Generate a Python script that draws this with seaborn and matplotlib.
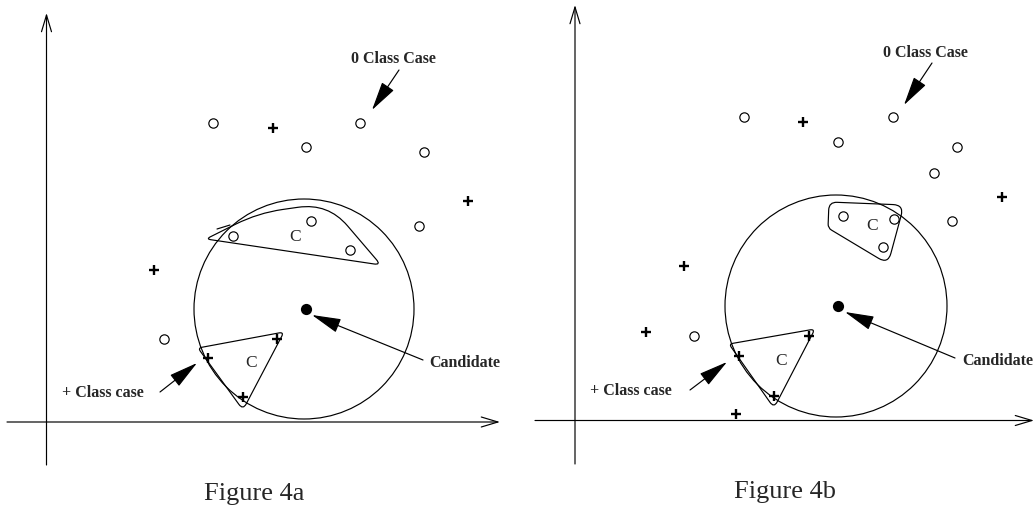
import matplotlib
matplotlib.use("Agg")
import matplotlib.pyplot as plt
import matplotlib.patches as mpatches
from matplotlib.path import Path
import seaborn as sns
import numpy as np

# Everything is placed in picture pixels (x right, y down), 1036 x 509

# Figure 4a
a_zero_x = [213, 360, 306, 424, 311, 233, 350, 419, 164]
a_zero_y = [123, 123, 147, 152, 221, 236, 250, 226, 339]
a_plus_x = [273, 468, 154, 277, 208, 243]
a_plus_y = [128, 201, 270, 339, 358, 397]
a_candidate = (306, 309)
a_radius = 110
a_upper_group = [(206, 239), (258, 213), (328, 203), (381, 265)]
a_upper_round = [5, 25, 30, 7]
a_lower_group = [(198, 348), (284, 332), (243, 410)]
a_lower_round = [4, 5, 7]
a_c_labels = [(295, 237), (251, 363)]

# Figure 4b
b_zero_x = [744, 893, 838, 957, 934, 843, 894, 883, 952, 694]
b_zero_y = [117, 117, 142, 147, 173, 216, 219, 247, 221, 336]
b_plus_x = [803, 1002, 684, 646, 809, 739, 774, 736]
b_plus_y = [122, 197, 266, 332, 336, 356, 396, 414]
b_candidate = (838, 306)
b_radius = 111
b_upper_group = [(829, 202), (904, 205), (888, 264), (828, 228)]
b_upper_round = [8, 11, 11, 4]
b_lower_group = [(729, 344), (815, 329), (774, 408)]
b_lower_round = [4, 5, 7]
b_c_labels = [(872, 226), (781, 361)]

panels = [
    dict(zx=a_zero_x, zy=a_zero_y, px=a_plus_x, py=a_plus_y, cand=a_candidate, r=a_radius,
         up=a_upper_group, upr=a_upper_round, lo=a_lower_group, lor=a_lower_round, cl=a_c_labels,
         xaxis=((7, 422), (500, 422)), yaxis=((46.5, 465), (46.5, 13)),
         zero_txt=(393, 59), zero_arrow=((399, 70), (372, 110)),
         cand_txt=(465, 363), cand_arrow=((423, 360), (312, 315)),
         plus_txt=(103, 393), plus_arrow=((160, 392), (197, 363)),
         title="Figure 4a", title_xy=(254, 494)),
    dict(zx=b_zero_x, zy=b_zero_y, px=b_plus_x, py=b_plus_y, cand=b_candidate, r=b_radius,
         up=b_upper_group, upr=b_upper_round, lo=b_lower_group, lor=b_lower_round, cl=b_c_labels,
         xaxis=((535, 420.5), (1034, 420.5)), yaxis=((575, 464), (575, 5)),
         zero_txt=(925, 53), zero_arrow=((932, 63), (904, 105)),
         cand_txt=(998, 361), cand_arrow=((955, 358), (845, 312)),
         plus_txt=(631, 391), plus_arrow=((690, 390), (727, 362)),
         title="Figure 4b", title_xy=(785, 492)),
]


def rounded_outline(corners, radii):
    pts = np.array(corners, float)
    n = len(pts)
    verts, codes = [], []
    for i in range(n):
        p, prev, nxt = pts[i], pts[i - 1], pts[(i + 1) % n]
        a = p + (prev - p) / np.linalg.norm(prev - p) * radii[i]
        b = p + (nxt - p) / np.linalg.norm(nxt - p) * radii[i]
        verts.append(a)
        codes.append(Path.MOVETO if i == 0 else Path.LINETO)
        verts += [p, b]
        codes += [Path.CURVE3, Path.CURVE3]
    verts.append(verts[0])
    codes.append(Path.LINETO)
    verts.append(verts[0])
    codes.append(Path.CLOSEPOLY)
    return Path(verts, codes)


sns.set_style("white")
plt.rcParams['font.family'] = ['Liberation Serif', 'DejaVu Serif']

fig = plt.figure(figsize=(10.36, 5.09), dpi=100)
ax = fig.add_axes([0, 0, 1, 1])
ax.set_xlim(0, 1036)
ax.set_ylim(509, 0)
ax.axis("off")

lw = 0.85
bold = dict(fontsize=11.5, fontweight="bold", ha="center", va="center")
head = dict(arrowstyle="-|>,head_length=1.3,head_width=0.32", color="black", lw=lw,
            shrinkA=0, shrinkB=0, mutation_scale=14)
axis_head = dict(arrowstyle="->,head_length=1.0,head_width=0.3", color="black", lw=lw,
                 shrinkA=0, shrinkB=0, mutation_scale=12)

for pn in panels:
    # axes with open arrow heads
    ax.annotate("", xy=pn["xaxis"][1], xytext=pn["xaxis"][0], arrowprops=axis_head)
    ax.annotate("", xy=pn["yaxis"][1], xytext=pn["yaxis"][0], arrowprops=axis_head)

    # neighbourhood circle and the two groups
    ax.add_patch(mpatches.Circle((pn["cand"][0] - 2, pn["cand"][1]), pn["r"], fill=False, lw=lw, ec="black"))
    ax.add_patch(mpatches.PathPatch(rounded_outline(pn["up"], pn["upr"]), fill=False, lw=lw, ec="black"))
    ax.add_patch(mpatches.PathPatch(rounded_outline(pn["lo"], pn["lor"]), fill=False, lw=lw, ec="black"))

    sns.scatterplot(x=pn["zx"], y=pn["zy"], marker="o", s=45, facecolor="white",
                    edgecolor="black", linewidth=0.85, ax=ax, zorder=3)
    sns.scatterplot(x=pn["px"], y=pn["py"], marker="+", s=58, color="black",
                    linewidth=1.7, ax=ax, zorder=3)
    sns.scatterplot(x=[pn["cand"][0]], y=[pn["cand"][1]], marker="o", s=65, color="black",
                    linewidth=0, ax=ax, zorder=3)

    for cx, cy in pn["cl"]:
        ax.text(cx, cy, "C", fontsize=12.5, ha="center", va="center")

    ax.text(*pn["zero_txt"], "0 Class Case", **bold)
    ax.annotate("", xy=pn["zero_arrow"][1], xytext=pn["zero_arrow"][0], arrowprops=head)
    ax.text(*pn["cand_txt"], "Candidate", **bold)
    ax.annotate("", xy=pn["cand_arrow"][1], xytext=pn["cand_arrow"][0], arrowprops=head)
    ax.text(*pn["plus_txt"], "+ Class case", **bold)
    ax.annotate("", xy=pn["plus_arrow"][1], xytext=pn["plus_arrow"][0], arrowprops=head)

    ax.text(*pn["title_xy"], pn["title"], fontsize=19, ha="center", va="center")

# small stroke at the left end of the upper group in Figure 4a
ax.plot([217, 230], [229, 225], color="black", lw=lw)

fig.savefig("out.png", dpi=100)
